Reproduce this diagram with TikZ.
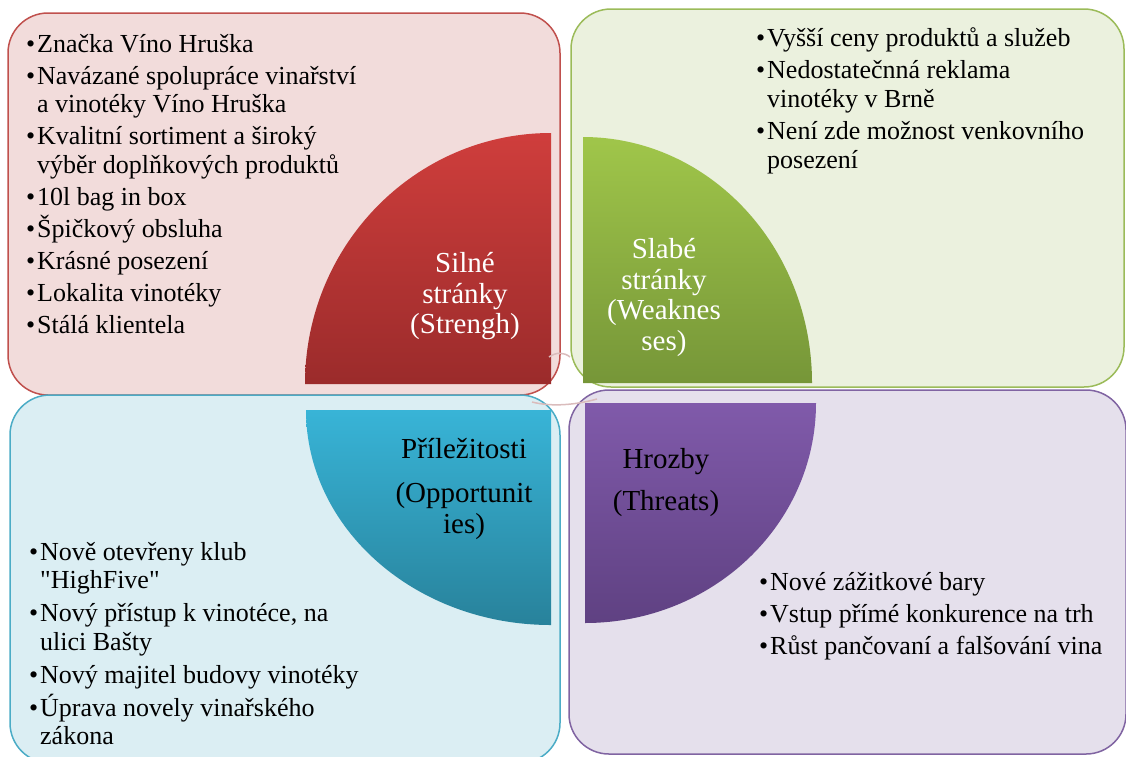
\documentclass[tikz,border=0pt]{standalone}
\usepackage{fontspec}
\setmainfont{Liberation Serif}
\usepackage{tikz}
\definecolor{sline}{RGB}{192,80,77}
\definecolor{sfill}{RGB}{242,220,219}
\definecolor{wline}{RGB}{155,187,89}
\definecolor{wfill}{RGB}{235,241,222}
\definecolor{oline}{RGB}{75,172,198}
\definecolor{ofill}{RGB}{219,238,243}
\definecolor{tline}{RGB}{128,100,162}
\definecolor{tfill}{RGB}{229,224,236}
\definecolor{stop}{RGB}{207,62,60}
\definecolor{sbot}{RGB}{155,43,43}
\definecolor{wtop}{RGB}{160,198,74}
\definecolor{wbot}{RGB}{118,150,56}
\definecolor{otop}{RGB}{56,180,215}
\definecolor{obot}{RGB}{40,130,155}
\definecolor{ttop}{RGB}{128,90,170}
\definecolor{tbot}{RGB}{95,65,130}
\definecolor{faint}{RGB}{218,188,188}
\newcommand{\bl}{\makebox[11pt][l]{\textbullet}}
\newcommand{\ind}{\hspace*{11pt}}
\setlength{\lineskiplimit}{-20pt}

\begin{document}
\begin{tikzpicture}[x=1pt,y=-1pt,inner sep=0pt,
box/.style={draw,rounded corners=40pt,line width=1.5pt},
list/.style={anchor=north west,align=left,font=\fontsize{26}{28.5}\selectfont},
head/.style={anchor=north,align=center,font=\fontsize{29}{30.5}\selectfont}]
\useasboundingbox (0,0) rectangle (1126,756);
\node (s) at (284,204) [box,draw=sline,fill=sfill,minimum width=552pt,minimum height=382pt] {};
\node (w) at (847.5,198) [box,draw=wline,fill=wfill,minimum width=553pt,minimum height=378pt] {};
\node (o) at (285,579) [box,draw=oline,fill=ofill,minimum width=550pt,minimum height=368pt] {};
\node (t) at (847.5,572) [box,draw=tline,fill=tfill,minimum width=557pt,minimum height=364pt] {};
\shade[top color=stop,bottom color=sbot] (551,384) -- (305,384) arc[start angle=180,end angle=90,x radius=246pt,y radius=251pt] -- cycle;
\shade[top color=wtop,bottom color=wbot] (583,383) -- (583,137) arc[start angle=90,end angle=0,x radius=229pt,y radius=246pt] -- cycle;
\shade[top color=otop,bottom color=obot] (551,410) -- (306,410) arc[start angle=180,end angle=270,x radius=245pt,y radius=215pt] -- cycle;
\shade[top color=ttop,bottom color=tbot] (585,403) -- (816,403) arc[start angle=0,end angle=-90,x radius=231pt,y radius=220pt] -- cycle;
\draw[faint,line width=1.5pt] (549,357) .. controls (556,352) and (564,352) .. (570,357);
\draw[faint,line width=1.5pt] (532,402) .. controls (552,407) and (575,405) .. (597,399);
\node (sh) at (465,251) [head,text=white] {\strut Silné\\stránky\\(Strengh)};
\node (wh) at (664,237) [head,text=white] {\strut Slabé\\stránky\\(Weaknes\\ses)};
\node (oh) at (464,437) [head] {\strut Příležitosti\\[13.5pt](Opportunit\\ies)};
\node (th) at (666,447) [head] {\strut Hrozby\\[11.5pt](Threats)};
\node (sl) at (26,32) [list] {\strut\bl Značka Víno Hruška\\[3.5pt]
\bl Navázané spolupráce vinařství\\ \ind a vinotéky Víno Hruška\\[3.5pt]
\bl Kvalitní sortiment a široký\\ \ind výběr doplňkových produktů\\[3.5pt]
\bl 10l bag in box\\[3.5pt]
\bl Špičkový obsluha\\[3.5pt]
\bl Krásné posezení\\[3.5pt]
\bl Lokalita vinotéky\\[3.5pt]
\bl Stálá klientela};
\node (wl) at (756,26) [list] {\strut\bl Vyšší ceny produktů a služeb\\[4pt]
\bl Nedostatečnná reklama\\ \ind vinotéky v Brně\\[4pt]
\bl Není zde možnost venkovního\\ \ind posezení};
\node (ol) at (29,540) [list] {\strut\bl Nově otevřeny klub\\ \ind \textquotedbl HighFive\textquotedbl\\[4.5pt]
\bl Nový přístup k vinotéce, na\\ \ind ulici Bašty\\[4.5pt]
\bl Nový majitel budovy vinotéky\\[4.5pt]
\bl Úprava novely vinařského\\ \ind zákona};
\node (tl) at (759,570) [list] {\strut\bl Nové zážitkové bary\\[3.5pt]
\bl Vstup přímé konkurence na trh\\[3.5pt]
\bl Růst pančovaní a falšování vina};
\end{tikzpicture}
\end{document}
